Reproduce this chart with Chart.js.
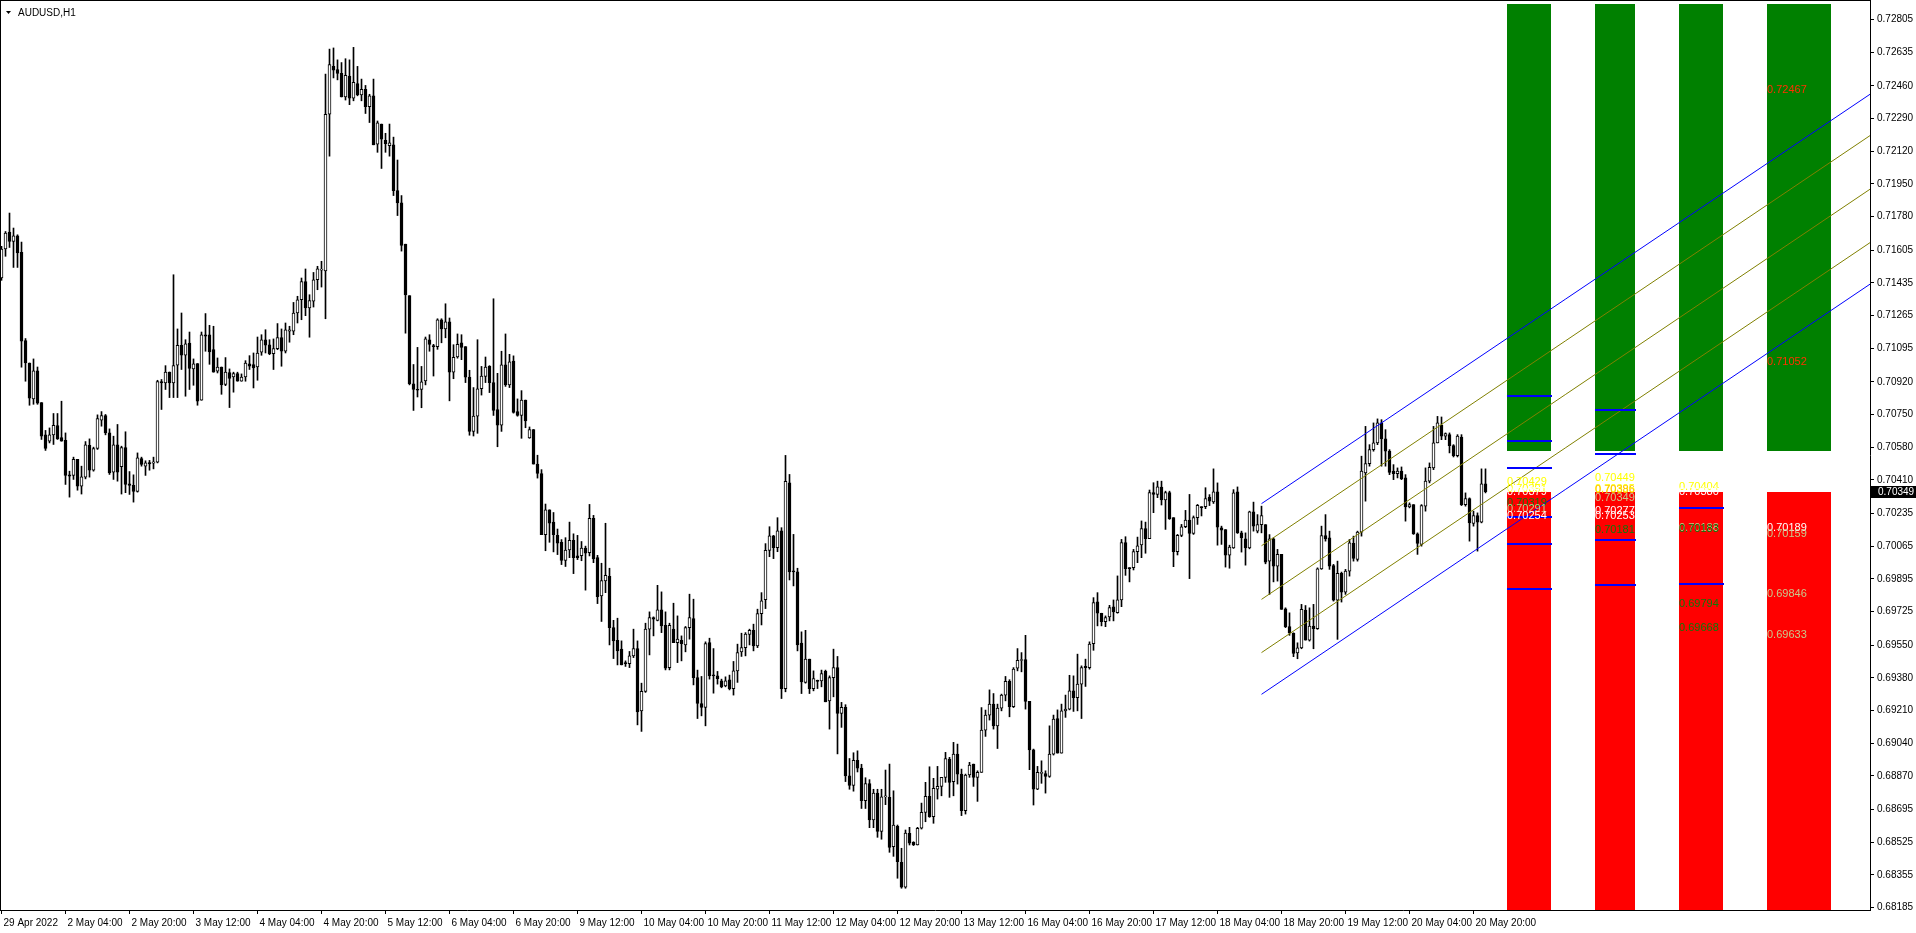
<!DOCTYPE html>
<html><head><meta charset="utf-8">
<script src="https://cdn.jsdelivr.net/npm/chart.js@4.4.1/dist/chart.umd.min.js"></script>
<style>html,body{margin:0;padding:0;background:#fff;overflow:hidden}</style>
</head><body><canvas id="c" width="1916" height="933"></canvas>
<script>
// ---- data (prices in points of 0.00001) ----
const chartTitle = 'AUDUSD,H1';
const openP = [
71460,71611,71699,71650,71680,71593,71134,71018,70831,70977,
70812,70644,70611,70644,70692,70630,70615,70436,70433,70516,
70377,70424,70589,70460,70573,70720,70744,70654,70450,70592,
70478,70578,70389,70381,70350,70521,70481,70500,70497,70502,
70921,70914,70971,70914,71006,71110,71058,71122,70987,71015,
70824,71165,71165,71087,70975,70997,70906,70968,70945,70963,
70923,70945,71013,71009,70997,71074,71139,71113,71067,71093,
71150,71079,71183,71183,71278,71347,71441,71304,71339,71451,
71501,71497,72312,72561,72545,72525,72402,72511,72396,72472,
72412,72442,72352,72408,72157,72261,72177,72149,72153,71915,
71851,71636,71368,70910,70880,70880,70924,71139,71107,71103,
71242,71195,71232,70970,71049,71123,71103,70944,70662,70741,
70884,70948,71000,70916,70775,70695,71008,70904,71028,70765,
70745,70825,70628,70672,70492,70443,70125,70254,70190,70121,
70085,69991,70045,70095,70015,70015,70055,70031,70209,70005,
69806,69884,69908,69641,69575,69529,69459,69454,69494,69532,
69208,69309,69633,69693,69679,69733,69653,69433,69633,69563,
69575,69551,69641,69688,69381,69246,69226,69563,69395,69390,
69364,69338,69369,69324,69416,69515,69537,69605,69627,69546,
69714,69787,70043,70118,70057,70144,69324,70395,69936,69931,
69560,69356,69477,69324,69364,69364,69413,69260,69381,69433,
69194,69226,68870,68820,68950,68910,68740,68830,68640,68780,
68580,68760,68758,68501,68607,68420,68290,68571,68524,68510,
68597,68680,68763,68657,68801,68815,68862,68957,68839,68983,
68879,68689,68874,68931,68862,68888,69108,69186,69243,69130,
69222,69290,69362,69230,69430,69470,69475,69257,69005,68801,
68882,68882,68867,68983,69168,68988,69208,69217,69312,69277,
69347,69439,69432,69558,69775,69716,69672,69697,69749,69719,
69785,70083,69953,69953,70036,70071,70156,70104,70343,70334,
70372,70305,70343,70213,70036,70121,70166,70201,70131,70213,
70270,70270,70320,70295,70347,70160,70151,70018,70056,70347,
70134,70103,70056,70243,70143,70177,70177,69987,70103,69961,
70022,69739,69646,69611,69510,69536,69732,69576,69649,69635,
69947,70120,70108,69964,69784,69923,69826,69935,70079,69996,
70138,70446,70494,70567,70602,70706,70623,70559,70455,70442,
70455,70420,70269,70281,70129,70074,70273,70403,70472,70602,
70694,70637,70645,70588,70536,70633,70281,70313,70183,70224,
70190,70389];
const highP = [
71625,71702,71798,71720,71685,71647,71145,71018,71039,70997,
70812,70667,70680,70755,70755,70819,70654,70455,70528,70516,
70481,70609,70623,70580,70748,70765,70750,70675,70637,70698,
70585,70660,70453,70436,70550,70528,70509,70511,70528,70928,
70932,71004,70971,71477,71195,71278,71139,71179,71039,71015,
71179,71275,71214,71209,71044,70997,71046,70987,70970,70970,
70961,71030,71056,71070,71153,71165,71191,71139,71143,71223,
71195,71226,71209,71333,71365,71460,71507,71373,71489,71521,
71547,72521,72651,72657,72595,72581,72601,72595,72660,72561,
72495,72462,72416,72495,72277,72261,72213,72261,72193,72074,
71889,71636,71368,71010,71099,71000,71153,71165,71115,71248,
71248,71326,71252,71113,71169,71165,71103,70980,70890,71139,
71000,71049,71004,71352,70964,71079,71169,71063,71055,70831,
70874,70825,70685,70672,70538,70463,70284,70254,70240,70154,
70099,70109,70190,70129,70121,70089,70065,70282,70225,70017,
69976,70184,69950,69679,69690,69572,69468,69517,69633,69572,
69352,69664,69723,69697,69861,69827,69723,69664,69768,69702,
69598,69647,69815,69789,69420,69387,69567,69586,69532,69413,
69373,69385,69394,69465,69555,69612,69615,69633,69659,69737,
69823,70078,70166,70121,70213,70161,70537,70438,70126,69950,
69619,69627,69477,69416,69368,69420,69420,69390,69529,69491,
69252,69240,68960,68990,69000,68930,68860,68850,68800,68800,
68800,68900,68931,68792,68614,68493,68588,68602,68527,68602,
68728,68836,68917,68857,68919,68862,68992,68966,69044,69035,
68905,68879,68940,68931,68896,69225,69212,69317,69298,69243,
69295,69387,69370,69433,69532,69511,69601,69257,69009,68919,
68948,68896,69130,69186,69213,69243,69290,69393,69390,69503,
69442,69477,69567,69797,69823,69716,69702,69757,69785,69910,
70100,70114,69953,70048,70112,70196,70190,70357,70395,70403,
70403,70351,70351,70213,70126,70178,70251,70334,70222,70282,
70270,70369,70333,70467,70394,70169,70151,70070,70359,70373,
70143,70134,70247,70294,70229,70273,70177,70125,70108,70048,
70022,69744,69718,69614,69562,69762,69756,69744,69762,69952,
70169,70229,70143,69970,69987,69930,69944,70100,70117,70143,
70533,70688,70593,70706,70727,70723,70671,70567,70489,70472,
70477,70437,70290,70281,70134,70281,70472,70498,70688,70740,
70737,70654,70654,70593,70645,70645,70342,70316,70247,70238,
70467,70467];
const lowP = [
71448,71573,71619,71515,71515,70996,70923,70798,70803,70803,
70620,70563,70602,70594,70620,70611,70386,70320,70412,70356,
70336,70415,70424,70455,70568,70689,70644,70438,70412,70403,
70336,70343,70334,70294,70346,70481,70433,70460,70467,70498,
70776,70880,70838,70838,70838,70984,70845,70880,70902,70798,
70824,71079,71011,70970,70966,70855,70900,70786,70866,70923,
70923,70923,70984,70888,70928,71058,71070,71061,70984,71087,
71001,71070,71126,71165,71226,71243,71264,71152,71309,71399,
71413,71248,72094,72501,72491,72402,72386,72362,72382,72408,
72382,72316,72269,72153,72114,72030,72114,72094,71889,71785,
71600,71173,70904,70771,70841,70785,70904,71079,70950,71089,
71123,71149,70821,70936,71043,71035,70916,70642,70638,70652,
70851,70916,70864,70745,70582,70662,70896,70890,70757,70741,
70626,70681,70626,70492,70419,70125,70041,70085,70035,70021,
69969,69959,70005,69922,69995,69989,69836,70014,69979,69766,
69673,69823,69551,69480,69447,69447,69439,69433,69485,69135,
69101,69304,69499,69598,69676,69615,69421,69421,69563,69459,
69468,69515,69581,69343,69168,69182,69130,69373,69300,69347,
69328,69333,69317,69290,69356,69491,69494,69551,69520,69537,
69655,69740,70010,70000,70036,69272,69307,69889,69858,69520,
69298,69352,69298,69312,69324,69333,69255,69113,69281,68984,
69122,68840,68800,68790,68890,68700,68700,68600,68600,68550,
68540,68720,68472,68451,68337,68285,68285,68510,68507,68510,
68593,68631,68654,68623,68749,68766,68836,68758,68766,68827,
68663,68671,68862,68815,68737,68888,69075,69160,69113,69012,
69208,69260,69177,69225,69416,69411,69217,68902,68718,68798,
68831,68780,68862,68978,68988,68988,69174,69213,69205,69208,
69168,69335,69425,69523,69650,69650,69646,69676,69676,69716,
69750,69913,69879,69941,69979,70005,70028,70104,70239,70317,
70279,70152,70204,69958,70019,70114,70161,69896,70126,70178,
70222,70260,70276,70287,70070,70074,69956,69950,70053,70131,
70034,69966,70051,70143,70134,70134,69973,69814,69879,69883,
69736,69641,69601,69490,69479,69531,69576,69571,69531,69632,
69944,70091,69944,69779,69580,69774,69814,69909,69987,69987,
70117,70299,70481,70559,70593,70481,70481,70437,70411,70420,
70411,70195,70264,70126,70022,70065,70247,70394,70463,70602,
70619,70619,70550,70529,70529,70276,70273,70091,70169,70039,
70186,70342];
const closeP = [
71611,71694,71650,71680,71590,71131,71018,70835,70977,70809,
70637,70573,70644,70694,70623,70611,70433,70429,70516,70377,
70426,70592,70460,70573,70729,70744,70654,70446,70592,70450,
70578,70386,70381,70350,70524,70490,70498,70493,70504,70921,
70914,70971,70914,71004,71110,71058,71117,70989,71013,70819,
71165,71157,71075,70970,70997,70904,70971,70938,70963,70923,
70945,71018,71001,70992,71070,71139,71110,71067,71093,71150,
71079,71191,71191,71278,71347,71441,71304,71342,71451,71508,
71507,72312,72571,72541,72525,72402,72515,72396,72478,72412,
72442,72352,72408,72153,72267,72183,72159,72163,71915,71851,
71630,71372,70910,70880,70876,70920,71143,71115,71103,71242,
71195,71232,70970,71047,71115,71099,70944,70662,70741,70884,
70950,70996,70916,70771,70695,71008,70904,71024,70761,70745,
70825,70717,70672,70492,70443,70125,70254,70184,70125,70081,
69991,70045,70095,70005,70005,70055,70029,70209,69999,69802,
69886,69913,69641,69572,69520,69447,69454,69494,69532,69203,
69309,69633,69693,69685,69733,69650,69430,69653,69563,69581,
69558,69641,69693,69381,69246,69226,69558,69390,69390,69376,
69333,69364,69324,69416,69511,69537,69607,69627,69546,69714,
69780,70043,70118,70057,70144,69324,70402,69931,69931,69551,
69359,69477,69324,69376,69361,69402,69255,69381,69433,69194,
69226,68870,68820,68950,68910,68740,68830,68640,68780,68580,
68760,68760,68498,68614,68423,68290,68572,68519,68510,68597,
68680,68763,68657,68805,68815,68862,68960,68836,68983,68879,
68689,68874,68926,68862,68888,69108,69186,69243,69130,69222,
69290,69362,69230,69425,69471,69475,69257,69005,68801,68888,
68888,68867,68983,69165,68988,69208,69217,69312,69277,69347,
69433,69432,69555,69771,69716,69672,69693,69745,69723,69785,
70083,69948,69948,70036,70066,70156,70104,70343,70334,70374,
70305,70343,70208,70036,70121,70166,70201,70131,70213,70277,
70265,70312,70299,70347,70164,70148,70018,70060,70342,70134,
70108,70056,70243,70169,70177,70224,69982,70103,69961,70022,
69736,69646,69614,69507,69536,69736,69576,69649,69635,69947,
70120,70103,69961,69784,69923,69826,69935,70082,70001,70138,
70455,70494,70567,70602,70706,70623,70559,70449,70442,70455,
70415,70269,70281,70129,70079,70276,70403,70475,70602,70706,
70637,70650,70588,70536,70637,70281,70313,70186,70224,70190,
70389,70349];

const xTickBars = [0,16,32,48,64,80,96,112,128,144,160,176,192,208,224,240,256,272,288,304,320,336,352,368];
const xTickLabels = ['29 Apr 2022','2 May 04:00','2 May 20:00','3 May 12:00','4 May 04:00','4 May 20:00','5 May 12:00','6 May 04:00','6 May 20:00','9 May 12:00','10 May 04:00','10 May 20:00','11 May 12:00','12 May 04:00','12 May 20:00','13 May 12:00','16 May 04:00','16 May 20:00','17 May 12:00','18 May 04:00','18 May 20:00','19 May 12:00','20 May 04:00','20 May 20:00'];
const yTickValues = [0.72805,0.72635,0.72460,0.72290,0.72120,0.71950,0.71780,0.71605,0.71435,0.71265,0.71095,0.70920,0.70750,0.70580,0.70410,0.70235,0.70065,0.69895,0.69725,0.69550,0.69380,0.69210,0.69040,0.68870,0.68695,0.68525,0.68355,0.68185];
const lastPrice = 0.70349;

// regression channel: [start bar, end bar] and prices at both ends
const channelBars = [315, 467.125];
const channelUpper = [0.70286, 0.72416];
const channelInnerUp = [0.70067, 0.72201];
const channelMid = [0.69788, 0.71922];
const channelInnerLow = [0.69511, 0.71644];
const channelLower = [0.69294, 0.71428];

// zone columns (bar index span)
const zoneCols = [[376.4,387.4],[398.4,408.4],[419.4,430.4],[441.4,457.4]];
const greenZone = [0.70562, 0.72888];
const redZone = [0.66, 0.70349];
// level segments: [column, price]
const levelLines = [[0,0.70848],[0,0.70614],[0,0.70469],[0,0.70219],[0,0.70074],[0,0.69840],
                    [1,0.70772],[1,0.70542],[1,0.70096],[1,0.69861],
                    [2,0.70261],[2,0.69866]];
// level texts: [column, price, colour key]
const levelTexts = [
 [0,0.70429,'y'],[0,0.70391,'y'],[0,0.70379,'w'],[0,0.70319,'g'],[0,0.70291,'k'],[0,0.70254,'w'],
 [1,0.70449,'y'],[1,0.70395,'y'],[1,0.70386,'o'],[1,0.70349,'k'],[1,0.70277,'w'],[1,0.70253,'w'],[1,0.70181,'g'],
 [2,0.70404,'y'],[2,0.70380,'w'],[2,0.70188,'k'],[2,0.70183,'g'],[2,0.69794,'g'],[2,0.69668,'g'],
 [3,0.72467,'r'],[3,0.71052,'r'],[3,0.70189,'w'],[3,0.70159,'k'],[3,0.69846,'k'],[3,0.69633,'k']
];
const textColours = {y:'#FFFF00', w:'#FFFFFF', g:'#0A7A0A', k:'#C8C88C', o:'#FFC000', r:'#FF3000'};

// ---- chart ----
const bodies = openP.map((o,i)=>({x:i, y:[o/1e5, closeP[i]/1e5]}));
const wicks = highP.map((h,i)=>({x:i, y:[lowP[i]/1e5, h/1e5]}));
const lineDs = (vals, col) => ({type:'line', data:[{x:channelBars[0],y:vals[0]},{x:channelBars[1],y:vals[1]}],
  borderColor:col, borderWidth:1, pointRadius:0, fill:false, order:0, tension:0});

const axisFont = {family:'Liberation Sans, Arial, sans-serif', size:10};
const zeroPad = s => { s.paddingTop = 0; s.paddingBottom = 0; s.paddingLeft = 0; s.paddingRight = 0; };

const overlay = {
  id:'overlay',
  beforeDatasetsDraw(chart){
    const {ctx, chartArea:a, scales:{x,y}} = chart;
    ctx.save();
    ctx.beginPath(); ctx.rect(a.left,a.top,a.right-a.left,a.bottom-a.top); ctx.clip();
    zoneCols.forEach(c=>{
      const x1 = Math.round(x.getPixelForValue(c[0])), x2 = Math.round(x.getPixelForValue(c[1]));
      ctx.fillStyle = '#008000';
      let yt = Math.round(y.getPixelForValue(greenZone[1])), yb = Math.round(y.getPixelForValue(greenZone[0]));
      ctx.fillRect(x1, yt, x2-x1, yb-yt);
      ctx.fillStyle = '#FF0000';
      yt = Math.round(y.getPixelForValue(redZone[1])); yb = Math.round(y.getPixelForValue(redZone[0]));
      ctx.fillRect(x1, yt, x2-x1, yb-yt);
    });
    ctx.restore();
  },
  afterDatasetsDraw(chart){
    const {ctx, chartArea:a, scales:{x,y}} = chart;
    ctx.save();
    ctx.fillStyle = '#0000FF';
    levelLines.forEach(l=>{
      const c = zoneCols[l[0]];
      const x1 = Math.round(x.getPixelForValue(c[0])), x2 = Math.round(x.getPixelForValue(c[1]));
      const py = Math.round(y.getPixelForValue(l[1]));
      ctx.fillRect(x1, py-1, x2-x1+1, 2);
    });
    ctx.font = '11px "Liberation Sans", Arial, sans-serif';
    ctx.textBaseline = 'top'; ctx.textAlign = 'left';
    levelTexts.forEach(t=>{
      const c = zoneCols[t[0]];
      ctx.fillStyle = textColours[t[2]];
      ctx.fillText(t[1].toFixed(5), Math.round(x.getPixelForValue(c[0])), Math.round(y.getPixelForValue(t[1])));
    });
    const py = Math.round(y.getPixelForValue(lastPrice));
    ctx.fillStyle = '#000';
    ctx.fillRect(a.right+1, py-6, chart.width-a.right-1, 12);
    ctx.fillStyle = '#fff';
    ctx.font = '10px "Liberation Sans", Arial, sans-serif';
    ctx.textBaseline = 'middle';
    ctx.fillText(lastPrice.toFixed(5), a.right+8, py+0.5);
    ctx.fillStyle = '#000';
    ctx.fillRect(0,0,1,a.bottom);
    ctx.fillRect(0,0,a.right,1);
    ctx.beginPath(); ctx.moveTo(6,11); ctx.lineTo(11,11); ctx.lineTo(8.5,14); ctx.closePath(); ctx.fill();
    ctx.font = '10px "Liberation Sans", Arial, sans-serif';
    ctx.textBaseline = 'middle';
    ctx.fillText(chartTitle, 18, 13);
    ctx.restore();
  }
};

new Chart(document.getElementById('c'), {
  type:'bar',
  data:{datasets:[
    lineDs(channelUpper,'#0000FF'),
    lineDs(channelInnerUp,'#808000'),
    lineDs(channelMid,'#808000'),
    lineDs(channelInnerLow,'#808000'),
    lineDs(channelLower,'#0000FF'),
    {type:'bar', data:bodies, grouped:false, barThickness:3, borderWidth:1, borderSkipped:false, minBarLength:1,
     borderColor:'#000', backgroundColor:c=> (closeP[c.dataIndex] >= openP[c.dataIndex] ? '#FFFFFF' : '#000000'), order:1},
    {type:'bar', data:wicks, grouped:false, barThickness:1, borderWidth:0, minBarLength:1, backgroundColor:'#000', order:2}
  ]},
  options:{
    responsive:false, animation:false, devicePixelRatio:1,
    layout:{padding:0},
    plugins:{legend:{display:false}, tooltip:{enabled:false}},
    scales:{
      x:{type:'linear', min:-0.375, max:467.125, offset:false, position:'bottom',
         afterFit:s=>{s.height=23; zeroPad(s);},
         afterBuildTicks:s=>{s.ticks = xTickBars.map(v=>({value:v}));},
         ticks:{autoSkip:false, maxRotation:0, minRotation:0, align:'start', labelOffset:2, padding:3,
                callback:(v,i)=>xTickLabels[i], font:axisFont, color:'#000'},
         grid:{drawOnChartArea:false, drawTicks:true, tickLength:4, color:'#000', offset:false},
         border:{display:true, color:'#000', width:1}},
      y:{type:'linear', position:'right', min:0.681718, max:0.729065,
         afterFit:s=>{s.width=46; zeroPad(s);},
         afterBuildTicks:s=>{s.ticks = yTickValues.map(v=>({value:v}));},
         ticks:{autoSkip:false, padding:3, callback:v=>v.toFixed(5), font:axisFont, color:'#000'},
         grid:{drawOnChartArea:false, drawTicks:true, tickLength:4, color:'#000'},
         border:{display:true, color:'#000', width:1}}
    }
  },
  plugins:[overlay]
});
</script></body></html>
